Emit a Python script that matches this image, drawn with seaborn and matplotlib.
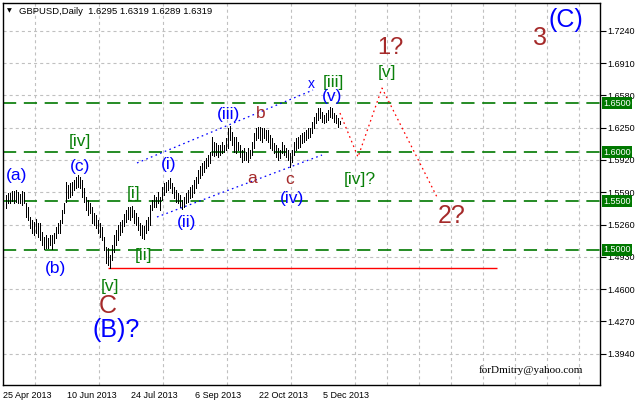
import numpy as np
import pandas as pd
import matplotlib
matplotlib.use("Agg")
import matplotlib.pyplot as plt
import seaborn as sns
from matplotlib.transforms import blended_transform_factory

# ---------------- data ----------------
bar_high = [
    1.5562, 1.5582, 1.5582, 1.5603, 1.5603, 1.5613, 1.5592, 1.5572, 1.5603, 1.5592,
    1.5480, 1.5439, 1.5337, 1.5306, 1.5286, 1.5317, 1.5276, 1.5276, 1.5184, 1.5133,
    1.5153, 1.5123, 1.5153, 1.5153, 1.5174, 1.5235, 1.5276, 1.5306, 1.5408, 1.5480,
    1.5695, 1.5664, 1.5684, 1.5695, 1.5715, 1.5746, 1.5766, 1.5746, 1.5715, 1.5633,
    1.5541, 1.5511, 1.5480, 1.5439, 1.5378, 1.5357, 1.5306, 1.5276, 1.5235, 1.5133,
    1.5031, 1.5020, 1.4949, 1.5051, 1.5153, 1.5204, 1.5255, 1.5286, 1.5306, 1.5368,
    1.5408, 1.5439, 1.5439, 1.5449, 1.5408, 1.5378, 1.5337, 1.5276, 1.5255, 1.5245,
    1.5306, 1.5337, 1.5460, 1.5511, 1.5562, 1.5541, 1.5592, 1.5541, 1.5643, 1.5684,
    1.5695, 1.5715, 1.5735, 1.5684, 1.5643, 1.5613, 1.5582, 1.5562, 1.5511, 1.5541,
    1.5582, 1.5613, 1.5643, 1.5664, 1.5715, 1.5746, 1.5817, 1.5858, 1.5889, 1.5909,
    1.5940, 1.5970, 1.6001, 1.6154, 1.6103, 1.6093, 1.6072, 1.6072, 1.6103, 1.6072,
    1.6144, 1.6246, 1.6267, 1.6205, 1.6154, 1.6154, 1.6103, 1.6072, 1.6021, 1.6042,
    1.6001, 1.6042, 1.6021, 1.6103, 1.6195, 1.6246, 1.6256, 1.6256, 1.6246, 1.6246,
    1.6226, 1.6226, 1.6175, 1.6144, 1.6093, 1.6072, 1.6042, 1.6021, 1.6103, 1.6072,
    1.6042, 1.6021, 1.5991, 1.6021, 1.6103, 1.6144, 1.6154, 1.6175, 1.6195, 1.6205,
    1.6226, 1.6246, 1.6246, 1.6307, 1.6358, 1.6399, 1.6450, 1.6450, 1.6410, 1.6379,
    1.6399, 1.6430, 1.6461, 1.6450, 1.6399, 1.6379, 1.6348, 1.6319,
]
bar_low = [
    1.5429, 1.5480, 1.5480, 1.5500, 1.5480, 1.5490, 1.5480, 1.5480, 1.5460, 1.5480,
    1.5337, 1.5306, 1.5225, 1.5174, 1.5153, 1.5174, 1.5133, 1.5102, 1.5051, 1.5010,
    1.5020, 1.5020, 1.5051, 1.5010, 1.5072, 1.5123, 1.5174, 1.5174, 1.5276, 1.5378,
    1.5490, 1.5531, 1.5541, 1.5562, 1.5613, 1.5633, 1.5643, 1.5633, 1.5541, 1.5490,
    1.5408, 1.5357, 1.5378, 1.5276, 1.5255, 1.5225, 1.5174, 1.5133, 1.5102, 1.5000,
    1.4867, 1.4847, 1.4814, 1.4898, 1.4979, 1.5051, 1.5102, 1.5153, 1.5184, 1.5245,
    1.5286, 1.5317, 1.5306, 1.5337, 1.5276, 1.5255, 1.5204, 1.5153, 1.5123, 1.5112,
    1.5174, 1.5204, 1.5255, 1.5408, 1.5439, 1.5439, 1.5480, 1.5408, 1.5511, 1.5562,
    1.5592, 1.5613, 1.5633, 1.5582, 1.5531, 1.5490, 1.5480, 1.5439, 1.5419, 1.5439,
    1.5480, 1.5490, 1.5531, 1.5541, 1.5582, 1.5633, 1.5684, 1.5735, 1.5766, 1.5797,
    1.5838, 1.5858, 1.5889, 1.5970, 1.5960, 1.5970, 1.5950, 1.5970, 1.5991, 1.6001,
    1.6021, 1.6042, 1.6124, 1.6072, 1.6001, 1.5991, 1.6021, 1.5950, 1.5899, 1.5919,
    1.5919, 1.5899, 1.5940, 1.5970, 1.6042, 1.6124, 1.6144, 1.6124, 1.6103, 1.6144,
    1.6124, 1.6103, 1.6042, 1.6021, 1.5991, 1.5950, 1.5919, 1.5940, 1.5991, 1.5970,
    1.5950, 1.5919, 1.5848, 1.5899, 1.5970, 1.6021, 1.6042, 1.6052, 1.6093, 1.6103,
    1.6124, 1.6144, 1.6154, 1.6195, 1.6246, 1.6297, 1.6328, 1.6348, 1.6307, 1.6297,
    1.6307, 1.6328, 1.6358, 1.6348, 1.6307, 1.6297, 1.6256, 1.6289,
]

x_tick_bars = [-1, 31, 63, 95, 127, 159]
x_tick_labels = ["25 Apr 2013", "10 Jun 2013", "24 Jul 2013",
                 "6 Sep 2013", "22 Oct 2013", "5 Dec 2013"]
y_ticks = [1.7240, 1.6910, 1.6580, 1.6250, 1.5920, 1.5590,
           1.5260, 1.4930, 1.4600, 1.4270, 1.3940]
levels = [1.6500, 1.6000, 1.5500, 1.5000]
support_level = 1.4813
support_span = [51.5, 246]

channel_upper_x = [66, 154]
channel_upper_y = [1.5889, 1.6634]
channel_lower_x = [76, 158.5]
channel_lower_y = [1.5337, 1.5970]

forecast_x = [167.5, 176.5, 188.5, 216]
forecast_y = [1.6399, 1.5950, 1.6654, 1.5541]

title_text = "GBPUSD,Daily  1.6295 1.6319 1.6289 1.6319"
watermark = "forDmitry@yahoo.com"

BLUE, BROWN, GREEN = "#0000ff", "#a52a2a", "#0a800a"
wave_labels = [
    ("(a)", 6, 1.5766, BLUE, 12.5),
    ("(b)", 25, 1.4816, BLUE, 12.5),
    ("(c)", 37.5, 1.5858, BLUE, 12.5),
    ("[iv]", 37.5, 1.6113, GREEN, 12.5),
    ("[i]", 64.5, 1.5582, GREEN, 12.5),
    ("[ii]", 69.5, 1.4939, GREEN, 12.5),
    ("[v]", 52.5, 1.4632, GREEN, 12.5),
    ("C", 51.5, 1.4428, BROWN, 18),
    ("(B)?", 55.5, 1.4183, BLUE, 18),
    ("(i)", 82, 1.5878, BLUE, 12.5),
    ("(ii)", 91, 1.5276, BLUE, 12.5),
    ("(iii)", 111.5, 1.6379, BLUE, 12.5),
    ("b", 128, 1.6399, BROWN, 12.5),
    ("a", 123.5, 1.5735, BROWN, 12.5),
    ("c", 142.5, 1.5725, BROWN, 12.5),
    ("(iv)", 143.5, 1.5531, BLUE, 12.5),
    ("x", 153, 1.6696, BLUE, 10),
    ("[iii]", 164, 1.6706, GREEN, 12.5),
    ("(v)", 163.5, 1.6563, BLUE, 12.5),
    ("1?", 192.5, 1.7063, BROWN, 17),
    ("[v]", 191, 1.6818, GREEN, 12.5),
    ("[iv]?", 177.5, 1.5725, GREEN, 12.5),
    ("2?", 223.5, 1.5347, BROWN, 18),
    ("3", 267.5, 1.7165, BROWN, 18),
    ("(C)", 280.5, 1.7349, BLUE, 18),
]

# ---------------- style ----------------
sns.set_style("white")
plt.rcParams["font.family"] = ["Liberation Sans", "DejaVu Sans"]
plt.rcParams["lines.scale_dashes"] = False

W, H, DPI = 637, 404, 100
fig = plt.figure(figsize=(W / DPI, H / DPI), dpi=DPI)
L, R, T, B = 3, 600, 3, 385
ax = fig.add_axes([L / W, (H - B) / H, (R - L) / W, (B - T) / H])

df = pd.DataFrame({"bar": np.arange(len(bar_high)), "high": bar_high, "low": bar_low})

ax.set_xlim(-1, 297.5)
ax.set_ylim(1.3621, 1.7523)

# grid
grid_color = "#c0c0c0"
ax.set_xticks(x_tick_bars)
ax.set_xticks(np.arange(15, 297, 16), minor=True)
ax.set_yticks(y_ticks)
ax.grid(False)
ax.grid(True, which="minor", axis="x", color=grid_color, lw=0.8, ls=(0, (2.2, 2.2)))
ax.grid(True, which="major", axis="y", color=grid_color, lw=0.8, ls=(0, (2.2, 2.2)))
ax.set_axisbelow(True)

# level lines
for lv in levels:
    ax.axhline(lv, color="#007800", lw=1.2, ls=(0, (9.5, 5.5)), zorder=2)
ax.hlines(support_level, support_span[0], support_span[1], color="red", lw=1.0, zorder=2)

# bars
ax.vlines(df["bar"] + 0.25, df["low"], df["high"], color="black", lw=0.5,
          antialiased=False, zorder=3)

# channel and forecast
sns.lineplot(x=channel_upper_x, y=channel_upper_y, ax=ax, color=BLUE, lw=0.9,
             linestyle=(0, (1.2, 2.4)), sort=False, zorder=4)
sns.lineplot(x=channel_lower_x, y=channel_lower_y, ax=ax, color=BLUE, lw=0.9,
             linestyle=(0, (1.2, 2.4)), sort=False, zorder=4)
sns.lineplot(x=forecast_x, y=forecast_y, ax=ax, color="red", lw=0.9,
             linestyle=(0, (1.2, 2.4)), sort=False, zorder=4)

# wave labels
for txt, xb, yv, col, fs in wave_labels:
    ax.text(xb, yv, txt, color=col, fontsize=fs, ha="center", va="center", zorder=5)

# axes cosmetics
for s in ax.spines.values():
    s.set_color("black")
    s.set_linewidth(1.0)
ax.yaxis.tick_right()
ax.set_yticklabels([f"{v:.4f}" for v in y_ticks], fontsize=6.5)
ax.tick_params(axis="y", which="major", direction="out", length=4, width=0.8, pad=1,
               colors="black")
ax.set_xticklabels(x_tick_labels, fontsize=6.5)
for lbl in ax.get_xticklabels():
    lbl.set_ha("left")
ax.tick_params(axis="x", which="major", direction="out", length=3, width=0.8, pad=1.5,
               colors="black")
ax.tick_params(axis="x", which="minor", length=0)
ax.set_xlabel("")
ax.set_ylabel("")

# green level boxes on the price scale
trans = blended_transform_factory(ax.transAxes, ax.transData)
for lv in levels:
    ax.text(1.0 + 3 / (R - L), lv, f"{lv:.4f}", transform=trans, fontsize=6.5, color="white",
            ha="left", va="center", clip_on=False, zorder=6,
            bbox=dict(boxstyle="square,pad=0.15", facecolor="#007800", edgecolor="none"))

# title and watermark
ax.text(4 / (R - L), 1 - 8 / (B - T), "\u25BC", transform=ax.transAxes, fontsize=4.5,
        family="DejaVu Sans", ha="left", va="center", color="black")
ax.text(16 / (R - L), 1 - 8 / (B - T), title_text, transform=ax.transAxes, fontsize=6.8,
        ha="left", va="center", color="black")
ax.text((531 - L) / (R - L), 1 - (370 - T) / (B - T), watermark, transform=ax.transAxes,
        fontsize=8, family="Liberation Serif", ha="center", va="center", color="black")

fig.savefig("out.png", dpi=DPI, facecolor="white")
